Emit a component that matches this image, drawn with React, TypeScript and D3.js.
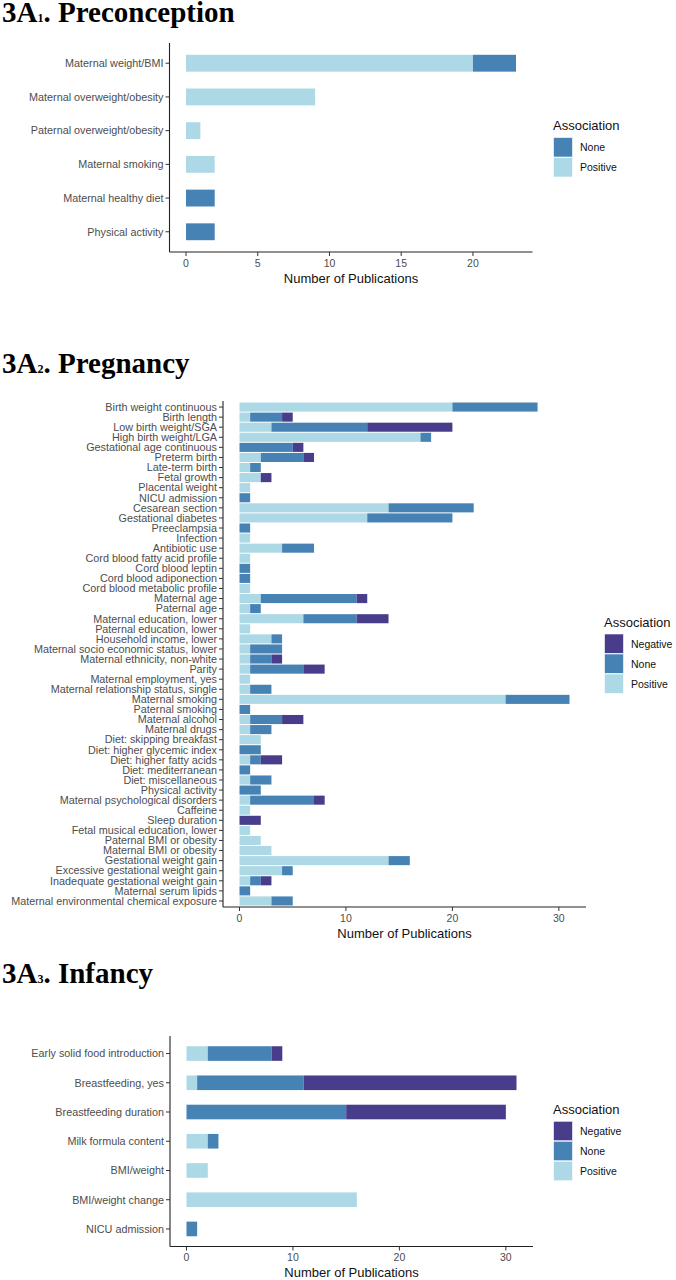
import React from 'react';
import * as d3 from 'd3';

// ---- data --------------------------------------------------------------

const preCategories = [
  'Maternal weight/BMI',
  'Maternal overweight/obesity',
  'Paternal overweight/obesity',
  'Maternal smoking',
  'Maternal healthy diet',
  'Physical activity',
];
const prePositive = [20, 9, 1, 2, 0, 0];
const preNone = [3, 0, 0, 0, 2, 2];
const preTicks = [0, 5, 10, 15, 20];

const pregCategories = [
  'Birth weight continuous',
  'Birth length',
  'Low birth weight/SGA',
  'High birth weight/LGA',
  'Gestational age continuous',
  'Preterm birth',
  'Late-term birth',
  'Fetal growth',
  'Placental weight',
  'NICU admission',
  'Cesarean section',
  'Gestational diabetes',
  'Preeclampsia',
  'Infection',
  'Antibiotic use',
  'Cord blood fatty acid profile',
  'Cord blood leptin',
  'Cord blood adiponection',
  'Cord blood metabolic profile',
  'Maternal age',
  'Paternal age',
  'Maternal education, lower',
  'Paternal education, lower',
  'Household income, lower',
  'Maternal socio economic status, lower',
  'Maternal ethnicity, non-white',
  'Parity',
  'Maternal employment, yes',
  'Maternal relationship status, single',
  'Maternal smoking',
  'Paternal smoking',
  'Maternal alcohol',
  'Maternal drugs',
  'Diet: skipping breakfast',
  'Diet: higher glycemic index',
  'Diet: higher fatty acids',
  'Diet: mediterranean',
  'Diet: miscellaneous',
  'Physical activity',
  'Maternal psychological disorders',
  'Caffeine',
  'Sleep duration',
  'Fetal musical education, lower',
  'Paternal BMI or obesity',
  'Maternal BMI or obesity',
  'Gestational weight gain',
  'Excessive gestational weight gain',
  'Inadequate gestational weight gain',
  'Maternal serum lipids',
  'Maternal environmental chemical exposure',
];
const pregPositive = [
  20, 1, 3, 17, 0, 2, 1, 2, 1, 0, 14, 12, 0, 1, 4, 1, 0, 0, 1, 2, 1, 6, 1, 3, 1,
  1, 1, 1, 1, 25, 0, 1, 1, 2, 0, 1, 0, 1, 0, 1, 1, 0, 1, 2, 3, 14, 4, 1, 0, 3,
];
const pregNone = [
  8, 3, 9, 1, 5, 4, 1, 0, 0, 1, 8, 8, 1, 0, 3, 0, 1, 1, 0, 9, 1, 5, 0, 1, 3,
  2, 5, 0, 2, 6, 1, 3, 2, 0, 2, 1, 1, 2, 2, 6, 0, 0, 0, 0, 0, 2, 1, 1, 1, 2,
];
const pregNegative = [
  0, 1, 8, 0, 1, 1, 0, 1, 0, 0, 0, 0, 0, 0, 0, 0, 0, 0, 0, 1, 0, 3, 0, 0, 0,
  1, 2, 0, 0, 0, 0, 2, 0, 0, 0, 2, 0, 0, 0, 1, 0, 2, 0, 0, 0, 0, 0, 1, 0, 0,
];
const pregTicks = [0, 10, 20, 30];

const infCategories = [
  'Early solid food introduction',
  'Breastfeeding, yes',
  'Breastfeeding duration',
  'Milk formula content',
  'BMI/weight',
  'BMI/weight change',
  'NICU admission',
];
const infPositive = [2, 1, 0, 2, 2, 16, 0];
const infNone = [6, 10, 15, 1, 0, 0, 1];
const infNegative = [1, 20, 15, 0, 0, 0, 0];
const infTicks = [0, 10, 20, 30];

// ---- style -------------------------------------------------------------

const COLORS: Record<string, string> = {
  Negative: '#483D8B',
  None: '#4682B4',
  Positive: '#ADD8E6',
};
const SANS = '"Liberation Sans", Arial, sans-serif';
const SERIF = '"Liberation Serif", "Times New Roman", serif';

interface PanelProps {
  title: string;
  sub: string;
  rest: string;
  titleY: number;
  categories: string[];
  positive: number[];
  none: number[];
  negative?: number[];
  ticks: number[];
  top: number;
  bottom: number;
  left: number;
  right: number;
  barRatio: number;
  legendX: number;
}

function Panel({
  title,
  sub,
  rest,
  titleY,
  categories,
  positive,
  none,
  negative,
  ticks,
  top,
  bottom,
  left,
  right,
  barRatio,
  legendX,
}: PanelProps) {
  const keys = negative ? ['Positive', 'None', 'Negative'] : ['Positive', 'None'];
  const rows = categories.map((c, i) => ({
    cat: c,
    Positive: positive[i],
    None: none[i],
    Negative: negative ? negative[i] : 0,
  }));
  const stacked = d3.stack<any>().keys(keys)(rows);
  const max = d3.max(rows, (r) => r.Positive + r.None + r.Negative) ?? 1;

  const x = d3.scaleLinear().domain([-0.05 * max, max * 1.05]).range([left, right]);
  const y = d3.scalePoint<string>().domain(categories).range([top, bottom]).padding(0.6);
  const bh = y.step() * barRatio;

  const legendKeys = [...keys].reverse();
  const legendH = 20 + legendKeys.length * 20;
  const legendTop = (top + bottom) / 2 - legendH / 2;

  return (
    <g>
      <text x={2} y={titleY} fontFamily={SERIF} fontWeight="bold" fontSize={29} fill="#000">
        {title}
        <tspan fontSize={12}>{sub}</tspan>
        {rest}
      </text>

      {/* bars */}
      {stacked.map((layer) => (
        <g key={layer.key}>
          {layer.map((d, i) =>
            d[1] - d[0] > 0 ? (
              <rect
                key={i}
                x={x(d[0])}
                y={(y(categories[i]) ?? 0) - bh / 2}
                width={x(d[1]) - x(d[0])}
                height={bh}
                fill={COLORS[layer.key]}
              />
            ) : null
          )}
        </g>
      ))}

      {/* y axis */}
      <line x1={left} x2={left} y1={top} y2={bottom} stroke="#222" strokeWidth={1.1} />
      {categories.map((c) => (
        <g key={c} transform={`translate(0,${y(c)})`}>
          <line x1={left - 4} x2={left} stroke="#333" strokeWidth={1} />
          <text
            x={left - 6}
            dy="0.35em"
            textAnchor="end"
            fontFamily={SANS}
            fontSize={10.8}
            fill="#4D4D4D"
          >
            {c}
          </text>
        </g>
      ))}

      {/* x axis */}
      <line x1={left} x2={right} y1={bottom} y2={bottom} stroke="#222" strokeWidth={1.1} />
      {ticks.map((t) => (
        <g key={t} transform={`translate(${x(t)},${bottom})`}>
          <line y1={0} y2={4} stroke="#333" strokeWidth={1} />
          <text y={11} dy="0.35em" textAnchor="middle" fontFamily={SANS} fontSize={10.5} fill="#4D4D4D">
            {t}
          </text>
        </g>
      ))}
      <text
        x={(left + right) / 2}
        y={bottom + 26}
        dy="0.35em"
        textAnchor="middle"
        fontFamily={SANS}
        fontSize={13}
        fill="#111"
      >
        Number of Publications
      </text>

      {/* legend */}
      <text x={legendX} y={legendTop + 8} dy="0.35em" fontFamily={SANS} fontSize={13} fill="#111">
        Association
      </text>
      {legendKeys.map((k, i) => (
        <g key={k} transform={`translate(${legendX},${legendTop + 20 + i * 20})`}>
          <rect x={0.5} y={0} width={19} height={19.5} fill={COLORS[k]} stroke="#fff" strokeWidth={0.6} />
          <text x={27} y={10} dy="0.35em" fontFamily={SANS} fontSize={10.5} fill="#111">
            {k}
          </text>
        </g>
      ))}
    </g>
  );
}

export default function App() {
  return (
    <svg
      width={676}
      height={1280}
      style={{ position: 'absolute', left: 0, top: 0, background: '#fff', display: 'block' }}
    >
      <rect width={676} height={1280} fill="#fff" />
      <Panel
        title="3A"
        sub="1"
        rest=". Preconception"
        titleY={22}
        categories={preCategories}
        positive={prePositive}
        none={preNone}
        ticks={preTicks}
        top={43}
        bottom={252}
        left={169.5}
        right={532.5}
        barRatio={0.5}
        legendX={553}
      />
      <Panel
        title="3A"
        sub="2"
        rest=". Pregnancy"
        titleY={373}
        categories={pregCategories}
        positive={pregPositive}
        none={pregNone}
        negative={pregNegative}
        ticks={pregTicks}
        top={401}
        bottom={907}
        left={223}
        right={586}
        barRatio={0.9}
        legendX={604}
      />
      <Panel
        title="3A"
        sub="3"
        rest=". Infancy"
        titleY={983}
        categories={infCategories}
        positive={infPositive}
        none={infNone}
        negative={infNegative}
        ticks={infTicks}
        top={1036}
        bottom={1246.5}
        left={170}
        right={533}
        barRatio={0.5}
        legendX={553}
      />
    </svg>
  );
}
